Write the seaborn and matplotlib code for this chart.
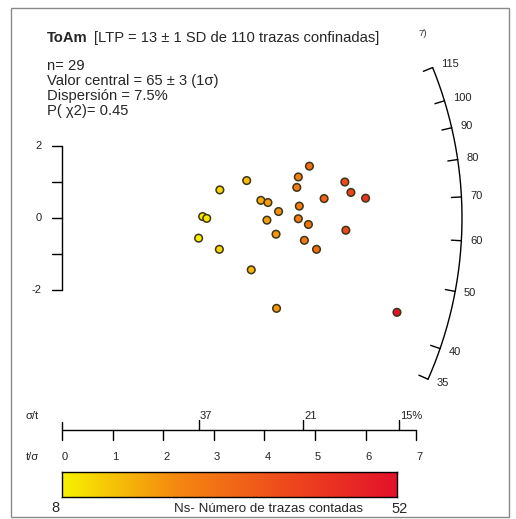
import numpy as np
import matplotlib
matplotlib.use("Agg")
import matplotlib.pyplot as plt
from matplotlib.colors import LinearSegmentedColormap, Normalize
from matplotlib.patches import Rectangle
import pandas as pd
import seaborn as sns

# --- data -------------------------------------------------------------
# radial plot coordinates of each grain: precision (t/sigma) and standardised estimate
precision = [4.89, 4.67, 4.64, 3.65, 3.12, 5.59, 5.71, 6.00, 5.18, 3.93, 4.07, 4.69,
             4.28, 2.78, 2.86, 4.05, 4.67, 4.87, 5.61, 4.23, 2.70, 4.79, 3.11, 5.03,
             3.74, 4.24, 6.62]
std_estimate = [1.44, 1.14, 0.85, 1.04, 0.78, 1.00, 0.71, 0.55, 0.54, 0.49, 0.43, 0.33,
                0.18, 0.04, -0.01, -0.06, -0.02, -0.18, -0.34, -0.45, -0.56, -0.62, -0.87,
                -0.87, -1.44, -2.51, -2.62]
ns_counts = [29, 26, 26, 16, 12, 37, 39, 43, 32, 18, 20, 26, 22, 9, 10, 20, 26, 28, 38,
             21, 8, 27, 12, 30, 17, 21, 52]

central_age = 65
age_ticks = [35, 40, 50, 60, 70, 80, 90, 100, 115]
precision_ticks = [0, 1, 2, 3, 4, 5, 6, 7]
rel_error_ticks = [37, 21, 15]
z_ticks = [-2, -1, 0, 1, 2]
z_labels = {2: "2", 0: "0", -2: "-2"}
ns_range = (8, 52)

# --- geometry (pixels) -------------------------------------------------
W, H = 516, 519
X0, Y0 = 62, 218          # origin of the radial plot
SX, SY = 50.6, 36.0       # pixels per unit along x and y
R_ARC = 400               # radius of the age scale
TICK = 10
TICK_FS = 8.0
TEXT_FS = 10.6

sns.set_style("white")
plt.rcParams["font.family"] = ["Liberation Sans", "DejaVu Sans"]

fig = plt.figure(figsize=(W / 100, H / 100), dpi=100)
ax = fig.add_axes([0, 0, 1, 1])
ax.set_xlim(-X0 / SX, (W - X0) / SX)
ax.set_ylim((Y0 - H) / SY, Y0 / SY)
ax.axis("off")


def ftxt(px, py, s, **kw):
    fig.text(px / W, 1 - py / H, s, **kw)


cmap = LinearSegmentedColormap.from_list("ns", ["#f7f200", "#f58a10", "#ee4a1c", "#e3122a"])
norm = Normalize(*ns_range)

# --- grains -------------------------------------------------------------
df = pd.DataFrame({"precision": precision, "z": std_estimate, "Ns": ns_counts})
sns.scatterplot(data=df, x="precision", y="z", hue="Ns", palette=cmap, hue_norm=norm,
                s=30, edgecolor="#3d3618", linewidth=1.1, legend=False, ax=ax, zorder=3)

# --- age scale (arc) ----------------------------------------------------
def arc_point(age, r):
    m = np.log(age / central_age)
    th = np.arctan2(m * SY, SX)
    return r * np.cos(th) / SX, r * np.sin(th) / SY


ages = np.linspace(min(age_ticks), max(age_ticks), 300)
arc_x, arc_y = arc_point(ages, R_ARC)
ax.plot(arc_x, arc_y, color="black", lw=1.0)
for a in age_ticks:
    x1, y1 = arc_point(a, R_ARC - TICK)
    x2, y2 = arc_point(a, R_ARC)
    ax.plot([x1, x2], [y1, y2], color="black", lw=1.0)
    lx, ly = arc_point(a, R_ARC + 9)
    ax.text(lx, ly, str(a), ha="left", va="center", fontsize=TICK_FS, color="#222222")

# --- standardised estimate axis ----------------------------------------
ax.plot([0, 0], [min(z_ticks), max(z_ticks)], color="black", lw=1.0)
for z in z_ticks:
    ax.plot([-TICK / SX, 0], [z, z], color="black", lw=1.0)
    if z in z_labels:
        ax.text(-20 / SX, z, z_labels[z], ha="right", va="center", fontsize=TICK_FS, color="#222222")

# --- precision axis ------------------------------------------------------
yb = (Y0 - 430) / SY
ax.plot([precision_ticks[0], precision_ticks[-1]], [yb, yb], color="black", lw=1.0)
for p in precision_ticks:
    ax.plot([p, p], [yb, yb - TICK / SY], color="black", lw=1.0)
    ax.text(p + 3 / SX, yb - 27 / SY, str(p), ha="center", va="center", fontsize=TICK_FS, color="#222222")
ax.plot([0, 0], [yb, yb + 8 / SY], color="black", lw=1.0)
for i, e in enumerate(rel_error_ticks):
    p = 100 / e
    ax.plot([p, p], [yb, yb + TICK / SY], color="black", lw=1.0)
    lab = f"{e}%" if i == len(rel_error_ticks) - 1 else str(e)
    ax.text(p + 1 / SX, yb + 14 / SY, lab, ha="left", va="center", fontsize=TICK_FS, color="#222222")
ftxt(32, 416, "σ/t", ha="center", va="center", fontsize=TICK_FS, color="#222222")
ftxt(32, 457, "t/σ", ha="center", va="center", fontsize=TICK_FS, color="#222222")

# --- colour bar ------------------------------------------------------------
cax = fig.add_axes([62 / W, 1 - 497 / H, 335 / W, 25 / H])
cax.imshow(np.linspace(0, 1, 256)[None, :], aspect="auto", cmap=cmap,
           extent=[ns_range[0], ns_range[1], 0, 1])
cax.set_xticks([])
cax.set_yticks([])
for sp in cax.spines.values():
    sp.set_visible(True)
    sp.set_color("black")
    sp.set_linewidth(1.0)
ftxt(55, 508, str(ns_range[0]), ha="center", va="center", fontsize=10.5)
ftxt(400, 509, str(ns_range[1]), ha="center", va="center", fontsize=10.5)
ftxt(268, 509, "Ns- Número de trazas contadas", ha="center", va="center", fontsize=9.6)

# --- header text -----------------------------------------------------------
ftxt(47, 38, "ToAm", ha="left", va="center", fontsize=TEXT_FS, fontweight="bold")
ftxt(94, 38, "[LTP = 13 ± 1 SD de 110 trazas confinadas]", ha="left", va="center", fontsize=TEXT_FS)
ftxt(418, 34, "7)", ha="left", va="center", fontsize=6.8, color="#333333")
stats = ["n= 29", "Valor central = 65 ± 3 (1σ)", "Dispersión = 7.5%", "P( χ2)= 0.45"]
for i, s in enumerate(stats):
    ftxt(47, 66 + 15 * i, s, ha="left", va="center", fontsize=TEXT_FS)

# --- frame -----------------------------------------------------------------
fig.patches.append(Rectangle((11 / W, 1 - 517 / H), 498 / W, 509 / H, transform=fig.transFigure,
                             fill=False, edgecolor="#8a8a8a", lw=1.0))

fig.savefig("out.png", dpi=100)
